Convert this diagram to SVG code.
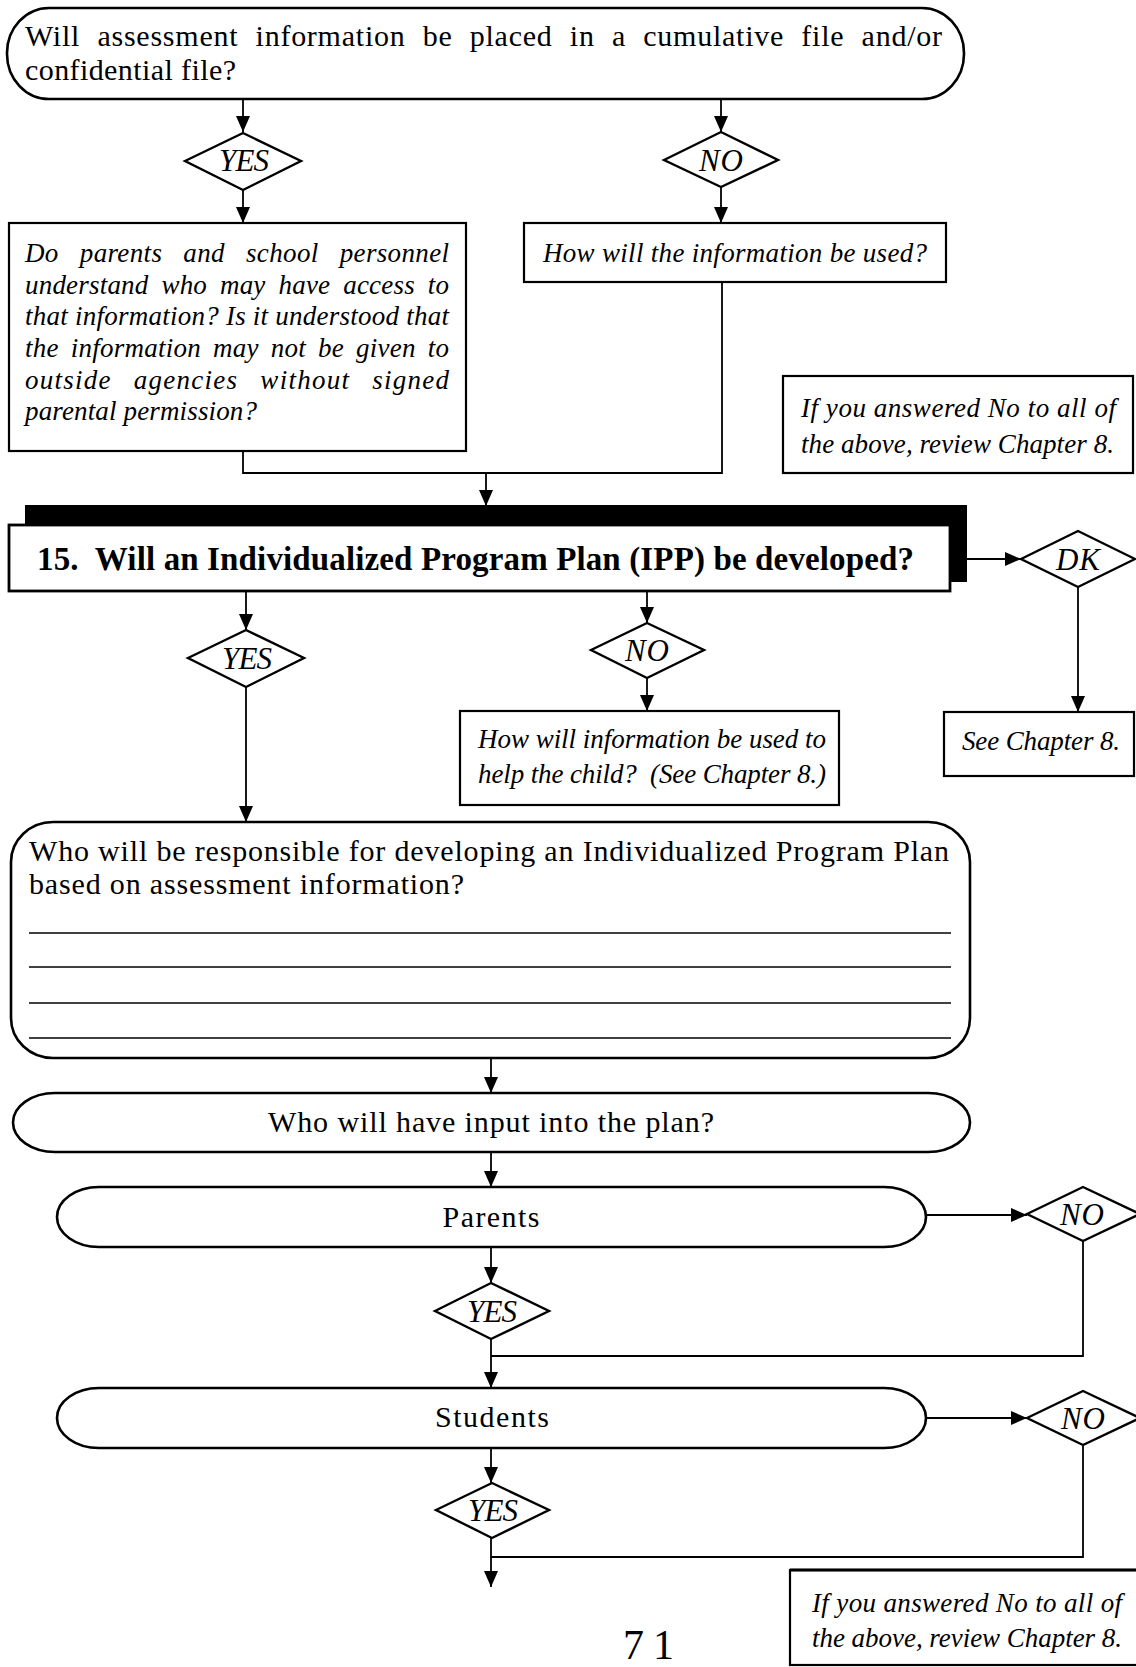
<svg xmlns="http://www.w3.org/2000/svg" width="1136" height="1667" viewBox="0 0 1136 1667">
  <defs>
    <marker id="arrow" markerUnits="userSpaceOnUse" markerWidth="16" markerHeight="16" viewBox="0 0 16 16" refX="16" refY="8" orient="auto">
      <path d="M0,1 L16,8 L0,15 z" fill="#000"/>
    </marker>
    <style>
      .shape { fill: #fff; stroke: #000; stroke-width: 2.2; }
      .pill { fill: #fff; stroke: #000; stroke-width: 2.6; }
      .dia { fill: #fff; stroke: #000; stroke-width: 2.4; }
      .rule { stroke: #000; stroke-width: 1.6; }
      .wire { fill: none; stroke: #000; stroke-width: 1.8; }
      .arr { fill: none; stroke: #000; stroke-width: 1.8; marker-end: url(#arrow); }
      text { font-family: "Liberation Serif", "Times New Roman", serif; fill: #000; }
      .up { font-size: 30px; }
      .it { font-size: 27px; font-style: italic; }
      .lab { font-size: 31px; font-style: italic; text-anchor: middle; }
      .title { font-size: 33px; font-weight: bold; }
      .mid { text-anchor: middle; }
    </style>
  </defs>

  <rect width="1136" height="1667" fill="#fff"/>

  <!-- connectors -->
  <g id="connectors">
    <line class="arr" x1="243" y1="99" x2="243" y2="132"/>
    <line class="arr" x1="243" y1="190" x2="243" y2="223"/>
    <line class="arr" x1="721" y1="99" x2="721" y2="132"/>
    <line class="arr" x1="721" y1="187" x2="721" y2="223"/>
    <path class="wire" d="M722,282 V473 H243 V451"/>
    <line class="arr" x1="486" y1="473" x2="486" y2="506"/>
    <line class="arr" x1="246" y1="591" x2="246" y2="630"/>
    <line class="arr" x1="647" y1="591" x2="647" y2="623"/>
    <line class="arr" x1="647" y1="678" x2="647" y2="711"/>
    <line class="arr" x1="967" y1="559" x2="1021" y2="559"/>
    <line class="arr" x1="1078" y1="587" x2="1078" y2="712"/>
    <line class="arr" x1="246" y1="687" x2="246" y2="822"/>
    <line class="arr" x1="491" y1="1058" x2="491" y2="1093"/>
    <line class="arr" x1="491" y1="1152" x2="491" y2="1187"/>
    <line class="arr" x1="491" y1="1247" x2="491" y2="1283"/>
    <line class="arr" x1="926" y1="1215" x2="1027" y2="1215"/>
    <path class="wire" d="M1083,1241 V1356 H491"/>
    <line class="arr" x1="491" y1="1339" x2="491" y2="1388"/>
    <line class="arr" x1="926" y1="1418" x2="1027" y2="1418"/>
    <path class="wire" d="M1083,1445 V1557 H491"/>
    <line class="arr" x1="491" y1="1448" x2="491" y2="1483"/>
    <line class="arr" x1="491" y1="1538" x2="491" y2="1587"/>
  </g>

  <!-- question: cumulative / confidential file -->
  <g id="q-file">
    <rect class="pill" x="7" y="8" width="957" height="91" rx="42" ry="45"/>
    <text class="up" x="25" y="46" word-spacing="9" textLength="917" lengthAdjust="spacing">Will assessment information be placed in a cumulative file and/or</text>
    <text class="up" x="25" y="80" textLength="211" lengthAdjust="spacing">confidential file?</text>
  </g>

  <g id="d-yes-1">
    <polygon class="dia" points="185,161 243,133 301,161 243,190"/>
    <text class="lab" x="244" y="171" textLength="50">YES</text>
  </g>
  <g id="d-no-1">
    <polygon class="dia" points="664,160 721,132 778,160 721,187"/>
    <text class="lab" x="721" y="171" textLength="44">NO</text>
  </g>

  <g id="b-access">
    <rect class="shape" x="9" y="223" width="457" height="228"/>
    <text class="it" x="25" y="262" word-spacing="14" textLength="424" lengthAdjust="spacing">Do parents and school personnel</text>
    <text class="it" x="25" y="294" word-spacing="6" textLength="424" lengthAdjust="spacing">understand who may have access to</text>
    <text class="it" x="25" y="325" textLength="424" lengthAdjust="spacing">that information? Is it understood that</text>
    <text class="it" x="25" y="357" word-spacing="5" textLength="424" lengthAdjust="spacing">the information may not be given to</text>
    <text class="it" x="25" y="389" word-spacing="14" textLength="424" lengthAdjust="spacing">outside agencies without signed</text>
    <text class="it" x="25" y="420" textLength="232" lengthAdjust="spacing">parental permission?</text>
  </g>

  <g id="b-used">
    <rect class="shape" x="524" y="223" width="422" height="59"/>
    <text class="it" x="543" y="262" textLength="384" lengthAdjust="spacing">How will the information be used?</text>
  </g>

  <g id="note-1">
    <rect class="shape" x="783" y="376" width="350" height="97"/>
    <text class="it" x="801" y="417" textLength="315" lengthAdjust="spacing">If you answered No to all of</text>
    <text class="it" x="801" y="453" textLength="313" lengthAdjust="spacing">the above, review Chapter 8.</text>
  </g>

  <!-- question 15 with heavy drop shadow -->
  <g id="q-ipp">
    <rect x="25" y="505" width="942" height="77" fill="#000"/>
    <rect x="9" y="525" width="941" height="66" fill="#fff" stroke="#000" stroke-width="2.8"/>
    <text class="title" x="37" y="570" textLength="877" lengthAdjust="spacing" style="white-space:pre">15.  Will an Individualized Program Plan (IPP) be developed?</text>
  </g>

  <g id="d-dk">
    <polygon class="dia" points="1021,559 1078,531 1135,559 1078,587"/>
    <text class="lab" x="1078" y="570" textLength="44">DK</text>
  </g>
  <g id="b-see">
    <rect class="shape" x="944" y="712" width="190" height="64"/>
    <text class="it" x="962" y="750" textLength="158" lengthAdjust="spacing">See Chapter 8.</text>
  </g>

  <g id="d-yes-2">
    <polygon class="dia" points="188,658 246,630 304,658 246,687"/>
    <text class="lab" x="247" y="669" textLength="50">YES</text>
  </g>
  <g id="d-no-2">
    <polygon class="dia" points="591,650 647,623 704,650 647,678"/>
    <text class="lab" x="647" y="661" textLength="44">NO</text>
  </g>

  <g id="b-help">
    <rect class="shape" x="460" y="711" width="379" height="94"/>
    <text class="it" x="478" y="748" textLength="348" lengthAdjust="spacing">How will information be used to</text>
    <text class="it" x="478" y="783" textLength="348" lengthAdjust="spacing" style="white-space:pre">help the child?  (See Chapter 8.)</text>
  </g>

  <g id="q-responsible">
    <rect class="pill" x="11" y="822" width="959" height="236" rx="42" ry="40"/>
    <text class="up" x="29" y="861" textLength="920" lengthAdjust="spacing">Who will be responsible for developing an Individualized Program Plan</text>
    <text class="up" x="29" y="894" textLength="435" lengthAdjust="spacing">based on assessment information?</text>
    <line class="rule" x1="29" y1="933" x2="951" y2="933"/>
    <line class="rule" x1="29" y1="967" x2="951" y2="967"/>
    <line class="rule" x1="29" y1="1003" x2="951" y2="1003"/>
    <line class="rule" x1="29" y1="1038" x2="951" y2="1038"/>
  </g>

  <g id="q-input">
    <rect class="pill" x="13" y="1093" width="957" height="59" rx="42" ry="29.5"/>
    <text class="up mid" x="491" y="1132" textLength="446" lengthAdjust="spacing">Who will have input into the plan?</text>
  </g>

  <g id="t-parents">
    <rect class="pill" x="57" y="1187" width="869" height="60" rx="42" ry="30"/>
    <text class="up mid" x="491" y="1227" textLength="97" lengthAdjust="spacing">Parents</text>
  </g>
  <g id="d-no-parents">
    <polygon class="dia" points="1027,1214 1083,1187 1140,1214 1083,1241"/>
    <text class="lab" x="1082" y="1225" textLength="44">NO</text>
  </g>
  <g id="d-yes-parents">
    <polygon class="dia" points="435,1311 491,1283 549,1311 491,1339"/>
    <text class="lab" x="492" y="1322" textLength="50">YES</text>
  </g>

  <g id="t-students">
    <rect class="pill" x="57" y="1388" width="869" height="60" rx="42" ry="30"/>
    <text class="up mid" x="492" y="1427" textLength="114" lengthAdjust="spacing">Students</text>
  </g>
  <g id="d-no-students">
    <polygon class="dia" points="1027,1418 1083,1391 1140,1418 1083,1445"/>
    <text class="lab" x="1083" y="1429" textLength="44">NO</text>
  </g>
  <g id="d-yes-students">
    <polygon class="dia" points="436,1510 492,1483 549,1510 492,1538"/>
    <text class="lab" x="493" y="1521" textLength="50">YES</text>
  </g>

  <g id="note-2">
    <rect class="shape" x="790" y="1570" width="360" height="95"/>
    <line x1="790" y1="1570" x2="1136" y2="1570" stroke="#000" stroke-width="3.2"/>
    <text class="it" x="812" y="1612" textLength="310" lengthAdjust="spacing">If you answered No to all of</text>
    <text class="it" x="812" y="1647" textLength="310" lengthAdjust="spacing">the above, review Chapter 8.</text>
  </g>

  <text x="623" y="1659" font-size="42" textLength="51" lengthAdjust="spacing">71</text>
</svg>
